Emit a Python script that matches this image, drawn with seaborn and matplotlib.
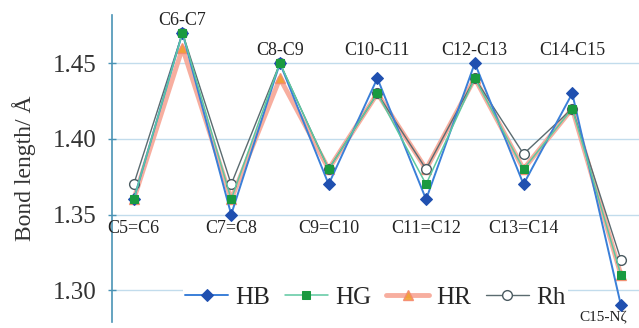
import matplotlib
matplotlib.use("Agg")
import matplotlib.pyplot as plt
import seaborn as sns
import pandas as pd
import numpy as np

bonds = ["C5=C6", "C6-C7", "C7=C8", "C8-C9", "C9=C10", "C10-C11",
         "C11=C12", "C12-C13", "C13=C14", "C14-C15", "C15-Nζ"]
HB = [1.36, 1.47, 1.35, 1.45, 1.37, 1.44, 1.36, 1.45, 1.37, 1.43, 1.29]
HG = [1.36, 1.47, 1.36, 1.45, 1.38, 1.43, 1.37, 1.44, 1.38, 1.42, 1.31]
HR = [1.36, 1.46, 1.36, 1.44, 1.38, 1.43, 1.38, 1.44, 1.38, 1.42, 1.31]
Rh = [1.37, 1.47, 1.37, 1.45, 1.38, 1.43, 1.38, 1.44, 1.39, 1.42, 1.32]
yticks = [1.30, 1.35, 1.40, 1.45]

sns.set_theme(style="white")
plt.rcParams["font.family"] = ["Liberation Serif", "DejaVu Serif"]

fig = plt.figure(figsize=(6.39, 3.28), dpi=100)
ax = fig.add_axes([0.175, 0.018, 0.825, 0.936])

x = np.arange(len(bonds))
df = pd.DataFrame({"x": x, "HB": HB, "HG": HG, "HR": HR, "Rh": Rh})

sns.lineplot(data=df, x="x", y="HR", ax=ax, color="#f7a595", lw=3.5, alpha=0.9,
             marker="^", markersize=7, markerfacecolor="#f0a030",
             markeredgecolor="#f58a70", markeredgewidth=1.0, label="HR", zorder=2)
sns.lineplot(data=df, x="x", y="Rh", ax=ax, color="#5b6b70", lw=1.0,
             marker="o", markersize=7, markerfacecolor="white",
             markeredgecolor="#4a5a60", markeredgewidth=1.0, label="Rh", zorder=3,
             linestyle=(0, (7, 4)))
sns.lineplot(data=df, x="x", y="HB", ax=ax, color="#3a7fd8", lw=1.4,
             marker="D", markersize=6.5, markerfacecolor="#2050b0",
             markeredgecolor="#2050b0", label="HB", zorder=4)
sns.lineplot(data=df, x="x", y="HG", ax=ax, color="#5cc8a0", lw=1.1,
             marker="s", markersize=5.5, markerfacecolor="#1a9a40",
             markeredgecolor="#1a9a40", label="HG", zorder=5)

ax.set_xlim(-0.45, 10.37)
ax.set_ylim(1.279, 1.4817)
ax.set_yticks(yticks)
ax.set_yticklabels([f"{t:.2f}" for t in yticks], fontsize=18, color="#333333")
ax.set_xticks([])
ax.set_xlabel("")
ax.set_ylabel("Bond length/ Å", fontsize=17, color="#333333", labelpad=12)
for t in yticks:
    ax.axhline(t, color="#c2dcec", lw=1.0, zorder=0)
for s in ["top", "right", "bottom"]:
    ax.spines[s].set_visible(False)
ax.spines["left"].set_color("#4a93b5")
ax.spines["left"].set_linewidth(1.2)
ax.tick_params(axis="y", which="both", left=True, length=6, width=1,
               color="#4a93b5", direction="inout", pad=8)

# category labels
for i, name in enumerate(bonds):
    vals = [HB[i], HG[i], HR[i], Rh[i]]
    if i == len(bonds) - 1:
        ax.annotate(name, (i, min(vals)), xytext=(-13, -4), textcoords="offset points",
                    ha="center", va="top", fontsize=11, color="#222222")
    elif i % 2 == 1:
        top = max(max(vals), 1.45)
        ax.annotate(name, (i, top), xytext=(0, 3), textcoords="offset points",
                    ha="center", va="bottom", fontsize=13, color="#222222")
    else:
        ax.annotate(name, (i, 1.35), xytext=(0, -4), textcoords="offset points",
                    ha="center", va="top", fontsize=13, color="#222222")

handles, labels = ax.get_legend_handles_labels()
order = [labels.index(k) for k in ["HB", "HG", "HR", "Rh"]]
for h in handles:
    h.set_linestyle("-")
leg = ax.legend([handles[k] for k in order], [labels[k] for k in order],
                ncol=4, loc="center", bbox_to_anchor=(0.5, 0.08),
                fontsize=18, frameon=True, facecolor="white", edgecolor="none",
                framealpha=1, handlelength=1.7, handletextpad=0.3,
                columnspacing=0.6, borderpad=0.1)
leg.set_zorder(10)

fig.savefig("out.png", dpi=100)
